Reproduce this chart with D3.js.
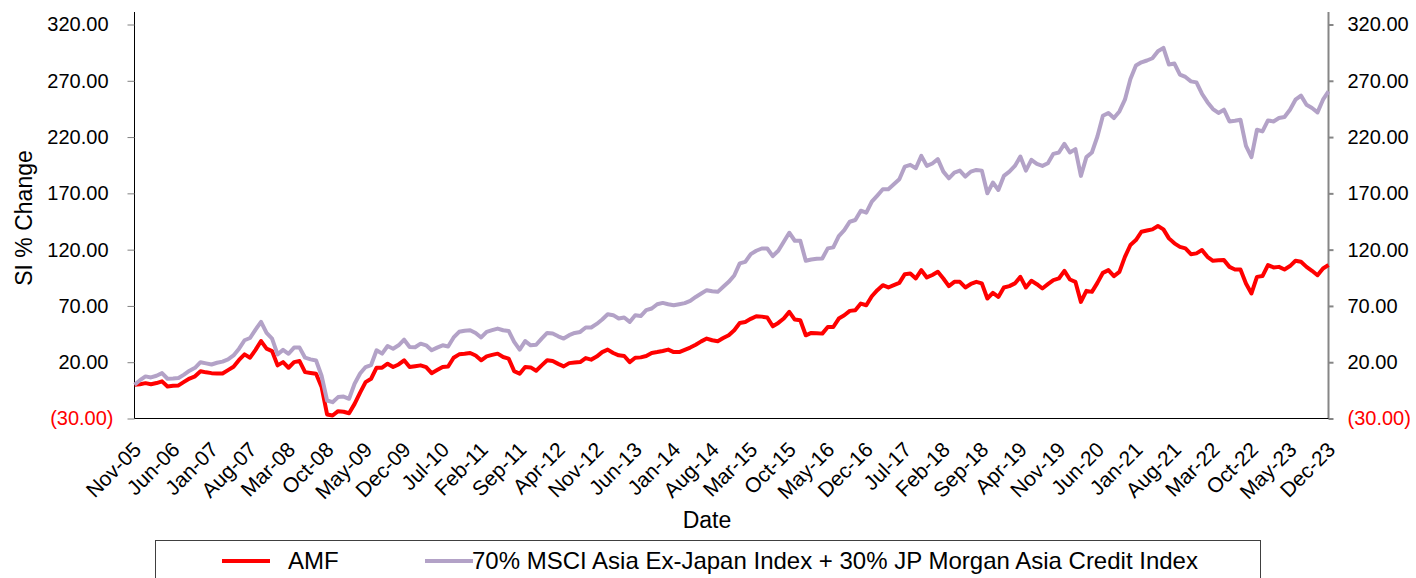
<!DOCTYPE html>
<html>
<head>
<meta charset="utf-8">
<script src="https://cdn.jsdelivr.net/npm/d3@7"></script>
<style>
  body { margin: 0; background: #fff; overflow: hidden; }
  svg text { font-family: "Liberation Sans", Arial, sans-serif; }
</style>
</head>
<body>
<div id="chart"></div>
<script>
// monthly SI % change, Nov-05 .. Dec-23
let months = d3.timeMonth.range(new Date(2005, 10, 1), new Date(2024, 0, 1));

let amf = [
  0, 0.5, 1.4, 0.5, 1.5, 3, -1.5, -1, -0.6, 2.5,
  5.5, 7.5, 12, 11, 10.3, 10, 10, 13, 16, 22,
  27, 24, 31, 38.8, 32, 29.9, 17.2, 20.1, 15.1, 20.1,
  21, 11.2, 10.5, 9.8, -2, -26.4, -27.3, -23.5, -24, -25.3,
  -17, -7, 2.3, 5.3, 15.1, 15.1, 18.7, 15.7, 18, 21.7,
  15.7, 16.5, 17.2, 15.7, 10.3, 13, 15.7, 16.2, 24, 27,
  27.5, 28.2, 26, 21.7, 25.2, 26.5, 27.6, 24.6, 23.2, 12.1,
  9.8, 15.7, 15.4, 12.4, 17.2, 21.7, 21, 18.5, 16.3, 19.2,
  19.7, 20.1, 23.7, 22.3, 25, 29, 31.2, 28.2, 26.1, 25.5,
  20.1, 24, 24.3, 25.5, 28.2, 29, 30, 31.2, 29, 29,
  31, 33, 35.5, 38.5, 41, 39.5, 38.6, 41.5, 44, 48.4,
  54.9, 55.8, 58.5, 60.8, 60.5, 59.7, 51.9, 54.9, 58.8, 64.7,
  57.9, 57.3, 43.9, 46, 45.8, 45.4, 51.3, 51.3, 58.8, 61.7,
  65.6, 66.2, 72.1, 70.6, 78.6, 84, 88.4, 86.4, 88.5, 90.5,
  98.2, 98.8, 94.4, 101.8, 95.3, 97.5, 100.3, 94.4, 87.6, 91.4,
  91.4, 86.4, 89.5, 91.4, 90, 76.6, 81.6, 78, 86.4, 87.6,
  90, 95.8, 86.4, 92.3, 89.3, 85.5, 89.3, 92.9, 94.4, 101.2,
  93.5, 91.4, 73.6, 83.4, 82.5, 90.5, 99.4, 101.8, 96.5, 100.3,
  113.6, 124.1, 128.5, 135.9, 137, 138, 141, 138, 130, 125.6,
  122.5, 121.1, 116, 116.7, 119.6, 113.6, 110.1, 110.5, 110.7, 104.7,
  102.4, 102.4, 90, 81.1, 95.8, 96.5, 106.3, 104.2, 104.7, 102.4,
  105.4, 110.1, 109.2, 104.7, 101.2, 97.3, 103.3, 106.3
];

let benchmark = [
  0, 4, 7.4, 6.5, 8, 10.3, 5.3, 5.5, 6, 9,
  12.5, 15, 20, 19, 18, 19.5, 20.5, 22.5, 26, 32,
  39.5, 41.5, 49, 55.8, 46, 41, 27, 31, 27.5, 33,
  33, 24, 22.5, 21.5, 8, -14, -15.5, -11, -10.5, -12.5,
  0.9, 10, 15.7, 17.5, 30.6, 27.6, 34.4, 32, 35, 40,
  33.5, 33.3, 36.5, 35, 30.6, 33, 35, 34, 42, 47,
  48, 48.4, 46, 42, 47, 48.5, 49.9, 48.4, 47.8, 38,
  31.2, 38.8, 35, 35.5, 41, 46, 45.5, 43, 41, 44,
  46, 46.9, 50.8, 50.8, 54, 58, 62.6, 61.8, 58.8, 59.7,
  55.8, 61.7, 61, 66.2, 67.7, 71.5, 72.7, 71.5, 70.6, 71.5,
  72.5, 74.5, 78, 81, 84, 83.1, 82.5, 87, 91.4, 97,
  107.8, 109.2, 116, 119, 121, 121, 114.3, 119, 127, 135,
  127.9, 127.9, 110.1, 111.3, 112, 112.2, 121.1, 122, 132.1, 137.4,
  144.8, 146.3, 154.6, 152.8, 162.6, 168, 173.6, 173.6, 178, 182.5,
  193.8, 195.3, 192.3, 203.3, 194.4, 196.5, 200.4, 189.3, 183.4, 188.5,
  190.2, 184.9, 189.3, 190.8, 190.2, 170.1, 179.6, 173, 185.5, 189.3,
  194.4, 202.7, 190.2, 199.8, 196.2, 194.4, 196.8, 205.1, 206.3, 214,
  206.3, 209.3, 185.5, 202.2, 206.3, 220.5, 238.9, 241.4, 236.9, 242.8,
  253.2, 271.6, 283.5, 286.4, 288, 290, 296.2, 299.2, 284.4, 285.3,
  275.5, 273.4, 269.5, 268.6, 258.5, 251, 244.9, 241.4, 244.3, 233.9,
  234.5, 235.4, 212.2, 202.2, 226.5, 225, 234.8, 233.9, 236.9, 237.8,
  244.3, 253.2, 256.8, 248.7, 245.8, 241.9, 253.2, 260.6
];

let tickLabels = ['Nov-05', 'Jun-06', 'Jan-07', 'Aug-07', 'Mar-08', 'Oct-08', 'May-09', 'Dec-09',
  'Jul-10', 'Feb-11', 'Sep-11', 'Apr-12', 'Nov-12', 'Jun-13', 'Jan-14', 'Aug-14',
  'Mar-15', 'Oct-15', 'May-16', 'Dec-16', 'Jul-17', 'Feb-18', 'Sep-18', 'Apr-19',
  'Nov-19', 'Jun-20', 'Jan-21', 'Aug-21', 'Mar-22', 'Oct-22', 'May-23', 'Dec-23'];

let yTicks = [-30, 20, 70, 120, 170, 220, 270, 320];

let seriesNames = ['AMF', '70% MSCI Asia Ex-Japan Index + 30% JP Morgan Asia Credit Index'];
let seriesColors = ['#ff0000', '#b3a2c7'];

let width = 1416,
    height = 578,
    plotLeft = 134.5,
    plotRight = 1328.5,
    plotTop = 24.5,
    plotBottom = 418.5;

let x = d3.scaleLinear().domain([0, months.length - 1]).range([plotLeft, plotRight]);
let y = d3.scaleLinear().domain([-30, 320]).range([plotBottom, plotTop]);

let svg = d3.select('#chart').append('svg')
    .attr('width', width)
    .attr('height', height);

function fmt(v) {
    return v < 0 ? '(' + d3.format('.2f')(-v) + ')' : d3.format('.2f')(v);
}

// left axis
let yLeft = svg.append('g')
    .attr('transform', 'translate(' + plotLeft + ',0)')
    .call(d3.axisLeft(y).tickValues(yTicks).tickSize(7).tickPadding(20).tickFormat(fmt));
yLeft.select('.domain').attr('d', 'M0,12V' + plotBottom).attr('stroke', '#000');
yLeft.selectAll('.tick line').attr('stroke', '#808080');
yLeft.selectAll('.tick text')
    .attr('font-size', 20)
    .attr('fill', function(d) { return d < 0 ? '#ff0000' : '#000' })
    .attr('x', function(d) { return d < 0 ? -21 : -26 });

// right axis
let yRight = svg.append('g')
    .attr('transform', 'translate(' + plotRight + ',0)')
    .call(d3.axisRight(y).tickValues(yTicks).tickSize(5).tickPadding(14).tickFormat(fmt));
yRight.select('.domain').attr('d', 'M0,12V' + plotBottom).attr('stroke', '#868686').attr('stroke-width', 2);
yRight.selectAll('.tick line').attr('stroke', '#868686').attr('stroke-width', 2);
yRight.selectAll('.tick text')
    .attr('font-size', 20)
    .attr('fill', function(d) { return d < 0 ? '#ff0000' : '#000' });

// bottom axis
let tickIdx = d3.range(0, months.length, 7);
svg.append('line')
    .attr('x1', plotLeft).attr('x2', plotRight)
    .attr('y1', plotBottom).attr('y2', plotBottom)
    .attr('stroke', '#000');

svg.append('g').selectAll('text')
    .data(tickIdx)
    .join('text')
    .attr('transform', function(d) { return 'translate(' + (x(d) + 8) + ',451) rotate(-45)' })
    .attr('text-anchor', 'end')
    .attr('font-size', 21)
    .text(function(d, i) { return tickLabels[i] });

// axis titles
svg.append('text')
    .attr('transform', 'translate(32,218) rotate(-90)')
    .attr('text-anchor', 'middle')
    .attr('font-size', 23)
    .text('SI % Change');

svg.append('text')
    .attr('x', 707).attr('y', 528)
    .attr('text-anchor', 'middle')
    .attr('font-size', 23)
    .text('Date');

// lines
let line = d3.line()
    .x(function(d, i) { return x(i) })
    .y(function(d) { return y(d) });

[amf, benchmark].forEach(function(data, k) {
    svg.append('path')
        .datum(data)
        .attr('fill', 'none')
        .attr('stroke', seriesColors[k])
        .attr('stroke-width', 4)
        .attr('stroke-linejoin', 'round')
        .attr('d', line);
});

// legend
let legend = svg.append('g');
legend.append('rect')
    .attr('x', 155.5).attr('y', 540.5)
    .attr('width', 1105).attr('height', 60)
    .attr('fill', '#fff')
    .attr('stroke', '#404040');

let legendX = [222, 425];
seriesNames.forEach(function(name, k) {
    legend.append('line')
        .attr('x1', legendX[k]).attr('x2', legendX[k] + 48)
        .attr('y1', 561).attr('y2', 561)
        .attr('stroke', seriesColors[k])
        .attr('stroke-width', 4);
    legend.append('text')
        .attr('x', legendX[k] + (k == 0 ? 66 : 47))
        .attr('y', 569)
        .attr('font-size', 24)
        .text(name);
});
</script>
</body>
</html>
